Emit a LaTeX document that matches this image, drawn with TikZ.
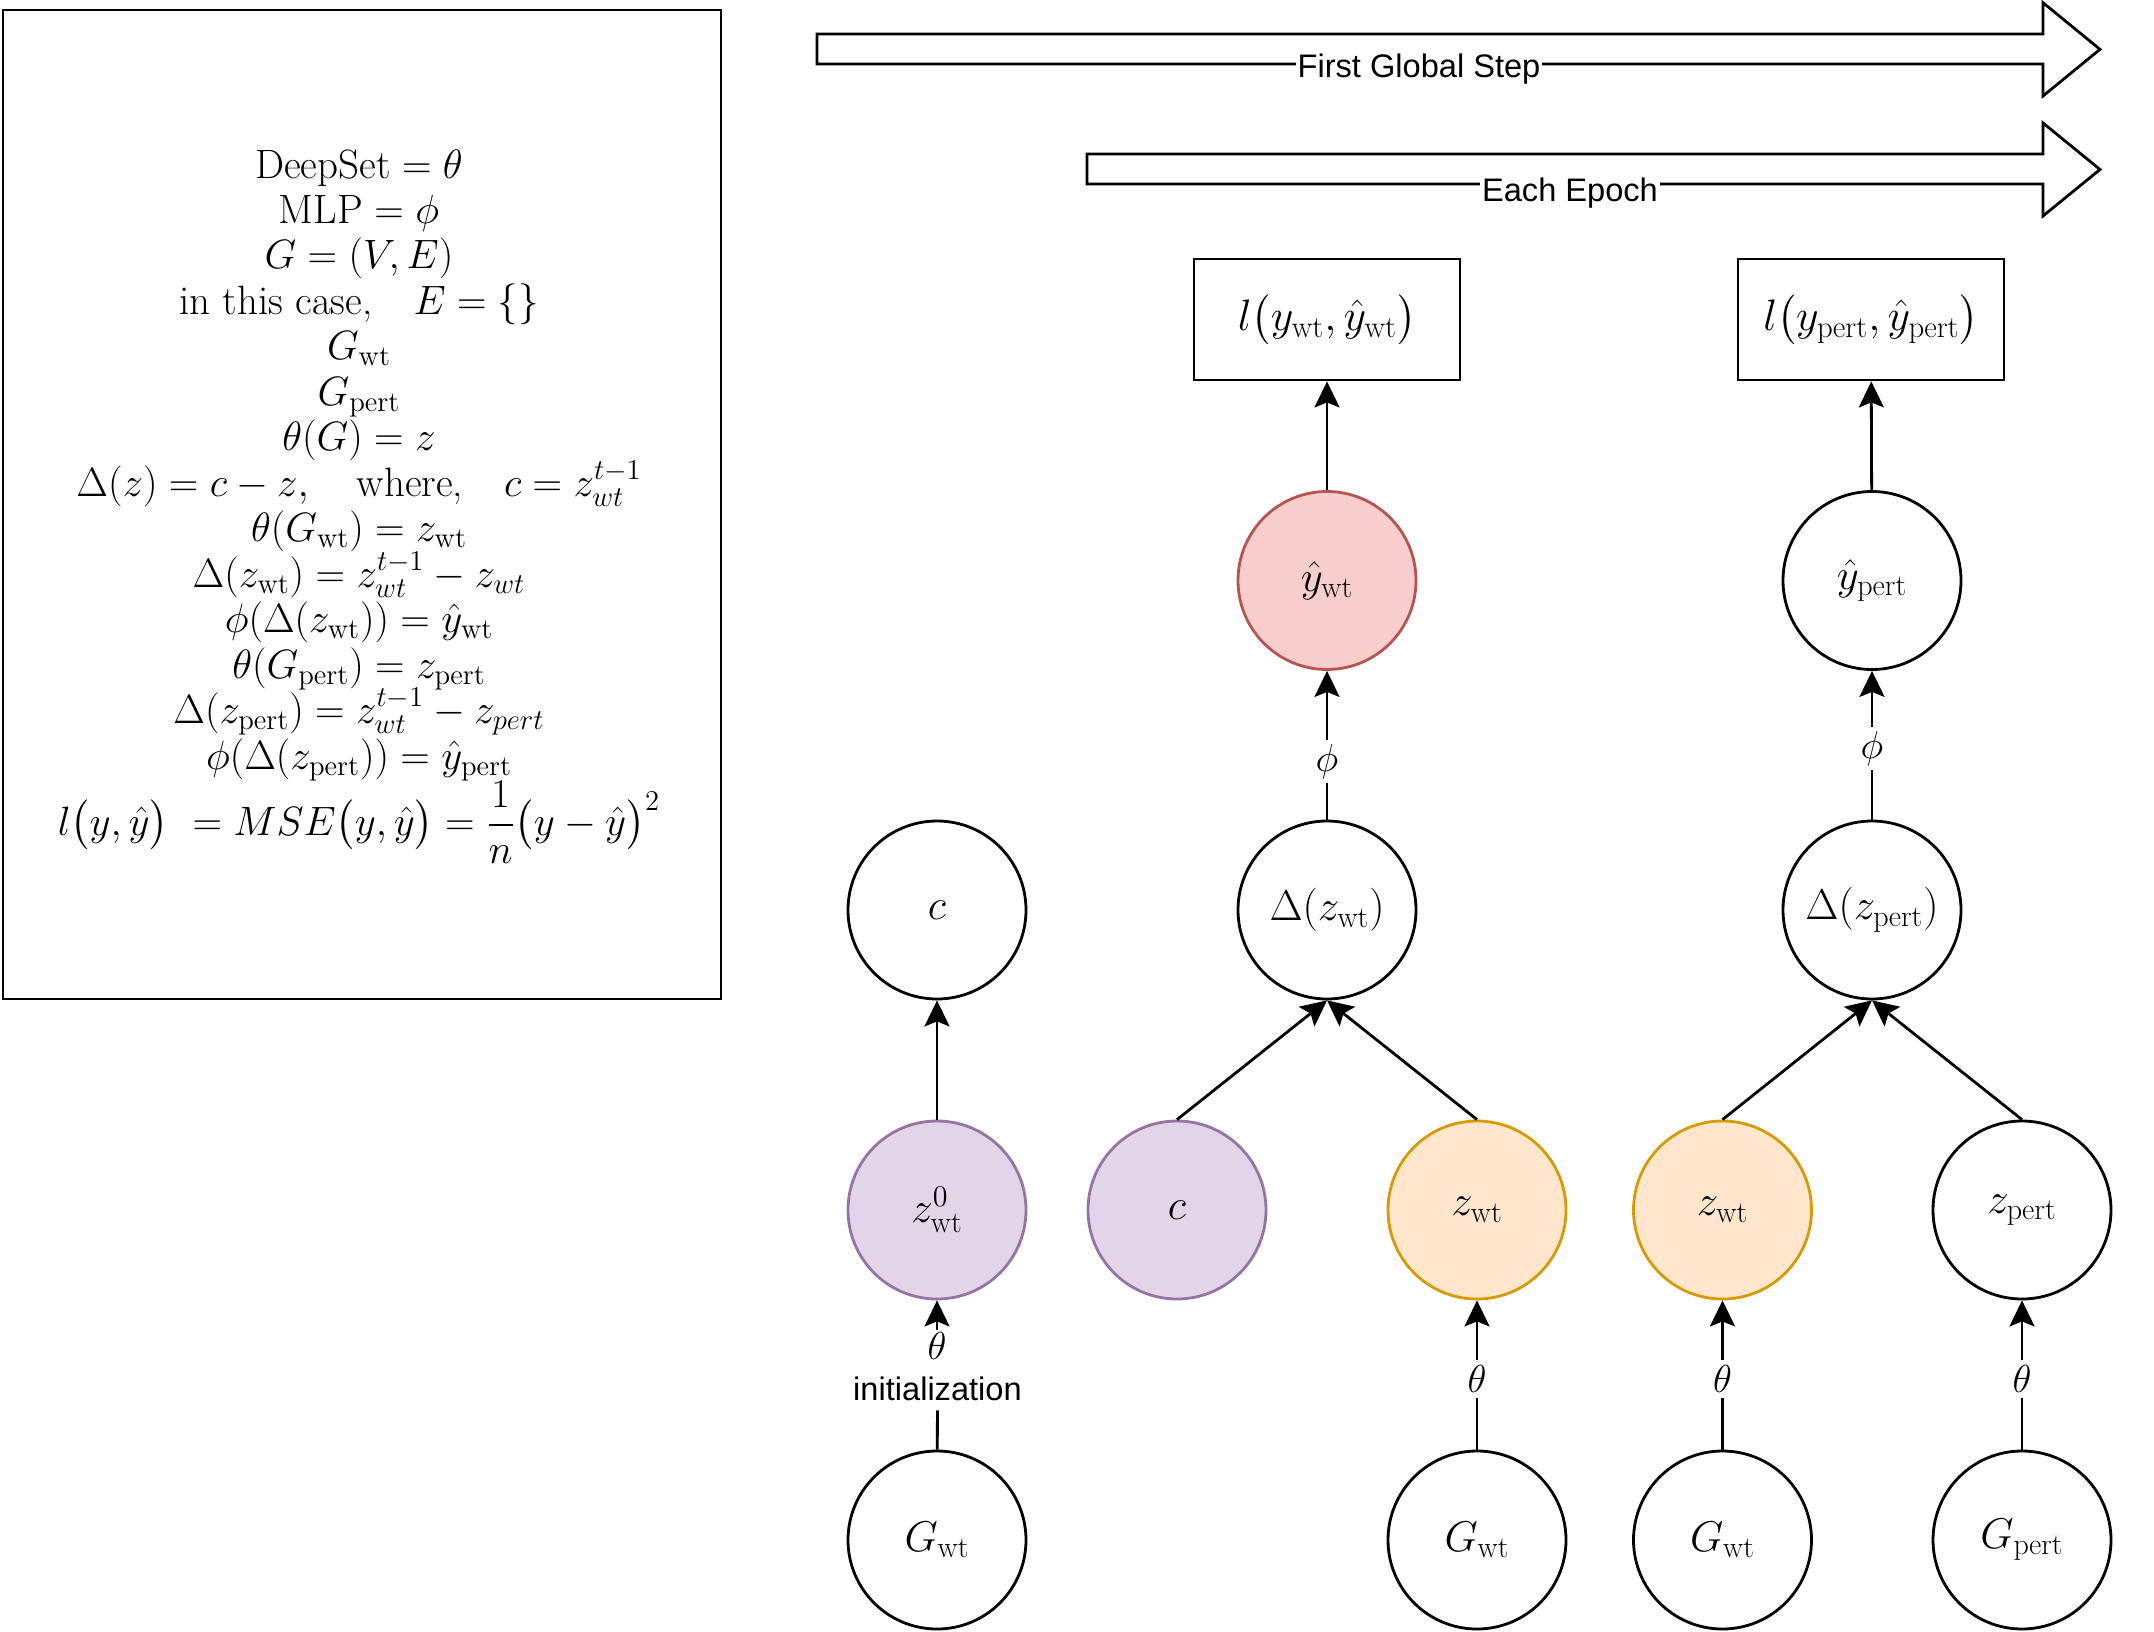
\RequirePackage{fix-cm}
\documentclass[tikz,border=0pt]{standalone}
\usepackage{amsmath}
\usepackage{fontspec}
\newfontfamily\myarial{Liberation Sans}
\usetikzlibrary{arrows.meta}
\definecolor{pF}{HTML}{E1D5E7}
\definecolor{pD}{HTML}{9673A6}
\definecolor{oF}{HTML}{FFE6CC}
\definecolor{oD}{HTML}{D79B00}
\definecolor{rF}{HTML}{F8CECC}
\definecolor{rD}{HTML}{B85450}
\newcommand\myeqfont{\fontsize{20.5}{24}\selectfont}
\newcommand\mycircfont{\fontsize{21.5}{25}\selectfont}
\newcommand\myboxfont{\fontsize{22}{26}\selectfont}
\newcommand\mylblfont{\fontsize{19.5}{23}\selectfont}
\newcommand\mysansfont{\fontsize{16.3}{19}\selectfont\myarial}
\begin{document}
\begin{tikzpicture}[x=0.5pt,y=-0.5pt,
  circ/.style={circle, draw, line width=1.4pt, minimum size=89pt, inner sep=0pt, font=\mycircfont},
  purp/.style={fill=pF, draw=pD},
  oran/.style={fill=oF, draw=oD},
  redc/.style={fill=rF, draw=rD},
  lossbox/.style={draw, line width=1.4pt, minimum width=133pt, minimum height=60.5pt, inner sep=0pt, font=\myboxfont},
  conn/.style={line width=1.4pt, -{Stealth[length=13pt,width=12.5pt,inset=2.5pt]}},
  plain/.style={line width=1.4pt},
  lbl/.style={inner xsep=1pt, inner ysep=2pt, font=\mylblfont},
  eqline/.style={anchor=base, inner sep=0pt, font=\myeqfont},
  bigarrow/.style={draw, line width=1.4pt, line join=miter, fill=white},
  arrowtext/.style={anchor=base, fill=white, inner xsep=1pt, inner ysep=2pt, font=\mysansfont}
]
\useasboundingbox (0,0) rectangle (2154,1632);

% definitions box
\node[draw, line width=1.4pt, minimum width=359pt, minimum height=494.5pt, inner sep=0pt] (defs) at (362,504.5) {};
\node[eqline] (e1) at (359,178) {$\text{DeepSet} = \theta$};
\node[eqline] (e2) at (359,223.5) {$\text{MLP} = \phi$};
\node[eqline] (e3) at (359,268.9) {$G = (V, E)$};
\node[eqline] (e4) at (359,314.4) {$\text{in this case,}\quad E = \{\}$};
\node[eqline] (e5) at (359,359.8) {$G_{\mathrm{wt}}$};
\node[eqline] (e6) at (359,405.3) {$G_{\mathrm{pert}}$};
\node[eqline] (e7) at (359,450.8) {$\theta(G) = z$};
\node[eqline] (e8) at (359,496.2) {$\Delta(z) = c - z,\quad \text{where,}\quad c = z_{wt}^{t-1}$};
\node[eqline] (e9) at (359,541.7) {$\theta(G_{\mathrm{wt}}) = z_{\mathrm{wt}}$};
\node[eqline] (e10) at (359,587.1) {$\Delta(z_{\mathrm{wt}}) = z_{wt}^{t-1} - z_{wt}$};
\node[eqline] (e11) at (359,632.6) {$\phi(\Delta(z_{\mathrm{wt}})) = \hat{y}_{\mathrm{wt}}$};
\node[eqline] (e12) at (359,678.1) {$\theta(G_{\mathrm{pert}}) = z_{\mathrm{pert}}$};
\node[eqline] (e13) at (359,723.5) {$\Delta(z_{\mathrm{pert}}) = z_{wt}^{t-1} - z_{pert}$};
\node[eqline] (e14) at (359,769) {$\phi(\Delta(z_{\mathrm{pert}})) = \hat{y}_{\mathrm{pert}}$};
\node[eqline] (e15) at (359,835) {$l\bigl(y,\hat{y}\bigr)\ = MSE\bigl(y,\hat{y}\bigr) = \dfrac{1}{n}\bigl(y-\hat{y}\bigr)^{2}$};

% big arrows
\draw[bigarrow] (817,34) -- (2043,34) -- (2043,2.7) -- (2100,49.35) -- (2043,96) -- (2043,64) -- (817,64) -- cycle;
\node[arrowtext] (fgs) at (1419,77.3) {First Global Step};
\draw[bigarrow] (1087,154) -- (2043,154) -- (2043,123) -- (2100,169.5) -- (2043,216) -- (2043,184) -- (1087,184) -- cycle;
\node[arrowtext] (ee) at (1570,201.7) {Each Epoch};

% loss boxes
\node[lossbox] (lW) at (1327,319.5) {$l\bigl(y_{\mathrm{wt}},\hat{y}_{\mathrm{wt}}\bigr)$};
\node[lossbox] (lP) at (1871,319.5) {$l\bigl(y_{\mathrm{pert}},\hat{y}_{\mathrm{pert}}\bigr)$};

% circles
\node[circ, redc] (yW) at (1327,580.5) {$\hat{y}_{\mathrm{wt}}$};
\node[circ] (yP) at (1872,580.5) {$\hat{y}_{\mathrm{pert}}$};
\node[circ] (cA) at (937,910) {$c$};
\node[circ] (dW) at (1327,910) {$\Delta(z_{\mathrm{wt}})$};
\node[circ] (dP) at (1872,910) {$\Delta(z_{\mathrm{pert}})$};
\node[circ, purp] (zA) at (937,1210) {$z^{0}_{\mathrm{wt}}$};
\node[circ, purp] (cB) at (1177,1210) {$c$};
\node[circ, oran] (zD) at (1477,1210) {$z_{\mathrm{wt}}$};
\node[circ, oran] (zE) at (1722.5,1210) {$z_{\mathrm{wt}}$};
\node[circ] (zG) at (2022,1210) {$z_{\mathrm{pert}}$};
\node[circ] (gA) at (937,1540) {$G_{\mathrm{wt}}$};
\node[circ] (gD) at (1477,1540) {$G_{\mathrm{wt}}$};
\node[circ] (gE) at (1722.5,1540) {$G_{\mathrm{wt}}$};
\node[circ] (gG) at (2022,1540) {$G_{\mathrm{pert}}$};

% edge labels
\node[lbl] (phiW) at (1327,761.7) {$\phi$};
\node[lbl] (phiP) at (1872,748.3) {$\phi$};
\node[lbl, inner ysep=1pt] (thA) at (937,1345.7) {$\theta$};
\node[arrowtext, inner ysep=4.5pt] (initA) at (937.5,1400.7) {initialization};
\node[lbl, inner ysep=2.5pt] (thD) at (1477,1379) {$\theta$};
\node[lbl, inner ysep=2.5pt] (thE) at (1722.5,1379) {$\theta$};
\node[lbl, inner ysep=2.5pt] (thG) at (2022,1379) {$\theta$};

% connectors
\draw[conn] (yW) -- (lW);
\draw[conn] (yP) -- (lP);
\draw[plain] (dW) -- (phiW);
\draw[conn] (phiW) -- (yW);
\draw[plain] (dP) -- (phiP);
\draw[conn] (phiP) -- (yP);
\draw[conn] (zA) -- (cA);
\draw[conn] (cB.north) -- (dW.south);
\draw[conn] (zD.north) -- (dW.south);
\draw[conn] (zE.north) -- (dP.south);
\draw[conn] (zG.north) -- (dP.south);
\draw[plain] (gA) -- (initA);
\draw[conn] (thA) -- (zA);
\draw[plain] (gD) -- (thD);
\draw[conn] (thD) -- (zD);
\draw[plain] (gE) -- (thE);
\draw[conn] (thE) -- (zE);
\draw[plain] (gG) -- (thG);
\draw[conn] (thG) -- (zG);
\end{tikzpicture}
\end{document}
